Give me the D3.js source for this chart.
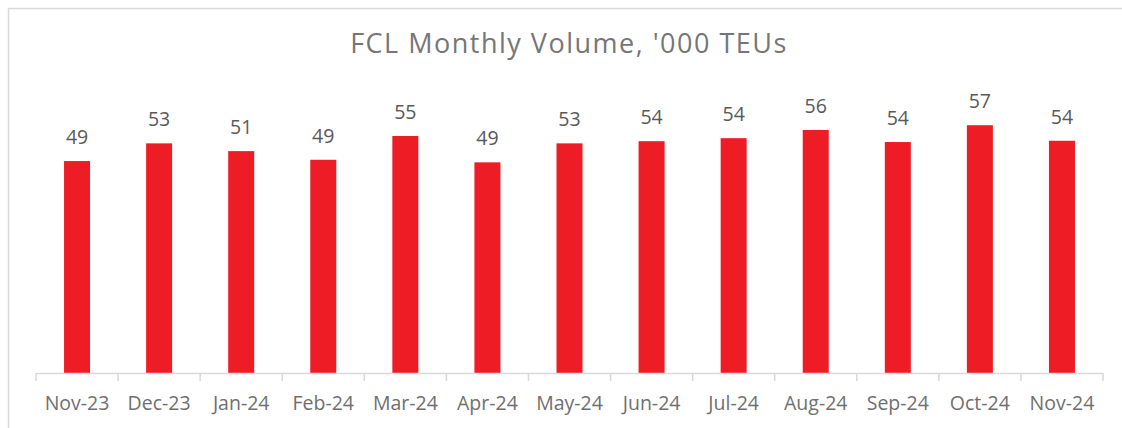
<!DOCTYPE html>
<html>
<head>
<meta charset="utf-8">
<script src="https://cdn.jsdelivr.net/npm/d3@7"></script>
<style>
  html, body { margin: 0; padding: 0; background: #fff; }
  svg { display: block; font-family: "Open Sans", sans-serif; }
  .title { fill: #767676; font-size: 27px; letter-spacing: 1.5px; }
  .bar-value { fill: #595959; font-size: 19.5px; }
  .axis-label { fill: #6f6f6f; font-size: 19.5px; }
</style>
</head>
<body>
<div id="chart"></div>
<script>
// ---- data ----
const MONTHS = ['Nov-23', 'Dec-23', 'Jan-24', 'Feb-24', 'Mar-24', 'Apr-24', 'May-24',
  'Jun-24', 'Jul-24', 'Aug-24', 'Sep-24', 'Oct-24', 'Nov-24'];
const VOLUMES = [49.1, 53.2, 51.4, 49.4, 54.9, 48.8, 53.2, 53.7, 54.4, 56.3, 53.5, 57.4, 53.8];
const Y_DOMAIN = [0, 60];
const TITLE = "FCL Monthly Volume, '000 TEUs";

const COLORS = {
  bar: '#EE1C25',
  axis: '#D9D9D9',
  frame: '#D9D9D9',
};

const W = 1122, H = 428;
const plot = { left: 36, right: 1103, bottom: 373, top: 114 };
const barWidth = 26;

const data = MONTHS.map((m, i) => ({ month: m, value: VOLUMES[i] }));

const svg = d3.select('#chart').append('svg')
  .attr('width', W)
  .attr('height', H);

// chart frame (cut off at right/bottom like the source)
svg.append('rect')
  .attr('x', 8.5).attr('y', 8.5)
  .attr('width', W + 20).attr('height', H + 20)
  .attr('fill', 'none')
  .attr('stroke', COLORS.frame)
  .attr('stroke-width', 1.5);

svg.append('text')
  .attr('class', 'title')
  .attr('x', 569)
  .attr('y', 53)
  .attr('text-anchor', 'middle')
  .text(TITLE);

const x = d3.scaleBand()
  .domain(MONTHS)
  .range([plot.left, plot.right])
  .padding(0);

const y = d3.scaleLinear()
  .domain(Y_DOMAIN)
  .range([plot.bottom, plot.top]);

// bars
svg.selectAll('.bar')
  .data(data)
  .enter()
  .append('rect')
  .attr('class', 'bar')
  .attr('x', (d) => x(d.month) + x.bandwidth() / 2 - barWidth / 2)
  .attr('y', (d) => y(d.value))
  .attr('width', barWidth)
  .attr('height', (d) => y(0) - y(d.value))
  .attr('fill', COLORS.bar);

// value labels
svg.selectAll('.bar-value')
  .data(data)
  .enter()
  .append('text')
  .attr('class', 'bar-value')
  .attr('x', (d) => x(d.month) + x.bandwidth() / 2)
  .attr('y', (d) => y(d.value) - 17)
  .attr('text-anchor', 'middle')
  .text((d) => d3.format('.0f')(d.value));

// x axis: line + boundary ticks
const axis = svg.append('g');
axis.append('line')
  .attr('x1', plot.left).attr('x2', plot.right)
  .attr('y1', plot.bottom + 0.5).attr('y2', plot.bottom + 0.5)
  .attr('stroke', COLORS.axis)
  .attr('stroke-width', 1.5);

const boundaries = MONTHS.map((m) => x(m)).concat([plot.right]);
axis.selectAll('.tick-mark')
  .data(boundaries)
  .enter()
  .append('line')
  .attr('x1', (d) => d).attr('x2', (d) => d)
  .attr('y1', plot.bottom).attr('y2', plot.bottom + 8)
  .attr('stroke', COLORS.axis)
  .attr('stroke-width', 1.5);

axis.selectAll('.axis-label')
  .data(MONTHS)
  .enter()
  .append('text')
  .attr('class', 'axis-label')
  .attr('x', (d) => x(d) + x.bandwidth() / 2)
  .attr('y', plot.bottom + 37)
  .attr('text-anchor', 'middle')
  .text((d) => d);
</script>
</body>
</html>
